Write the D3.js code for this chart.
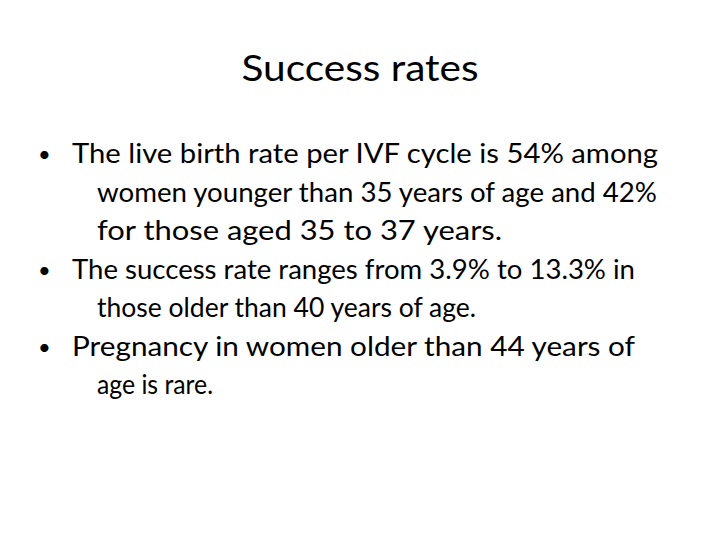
<!DOCTYPE html>
<html><head><meta charset="utf-8">
<script src="https://cdn.jsdelivr.net/npm/d3@7"></script>
<style>body{margin:0;background:#fff}</style>
</head><body>
<script>
// slide content
const title = "Success rates";
const bullets = [
  ["The live birth rate per IVF cycle is 54% among", "women younger than 35 years of age and 42%", "for those aged 35 to 37 years."],
  ["The success rate ranges from 3.9% to 13.3% in", "those older than 40 years of age."],
  ["Pregnancy in women older than 44 years of", "age is rare."]
];
// line widths, used to fit the substitute font
const lineWidths = [586, 560, 405, 563, 379, 563, 116];

const svg = d3.select("body").append("svg").attr("width", 720).attr("height", 540);
const font = "Lato, 'Open Sans', sans-serif";

svg.append("text").attr("x", 360).attr("y", 81).attr("text-anchor", "middle")
  .style("font-family", font).style("font-size", "36px").attr("fill", "#000")
  .attr("textLength", 237).attr("lengthAdjust", "spacingAndGlyphs").text(title);

const lines = [];
bullets.forEach(b => b.forEach((t, i) => lines.push({t, first: i === 0})));
const y = d3.scaleLinear().domain([0, lines.length - 1]).range([163, 394]);

lines.forEach((d, i) => {
  if (d.first) {
    svg.append("text").attr("x", 38).attr("y", y(i) - 1)
      .style("font-family", font).style("font-size", "22px").text("•");
  }
  svg.append("text")
    .attr("x", d.first ? 72 : 97)
    .attr("y", y(i))
    .style("font-family", font).style("font-size", "27px").attr("fill", "#000")
    .attr("textLength", lineWidths[i]).attr("lengthAdjust", "spacingAndGlyphs")
    .text(d.t);
});
</script>
</body></html>
